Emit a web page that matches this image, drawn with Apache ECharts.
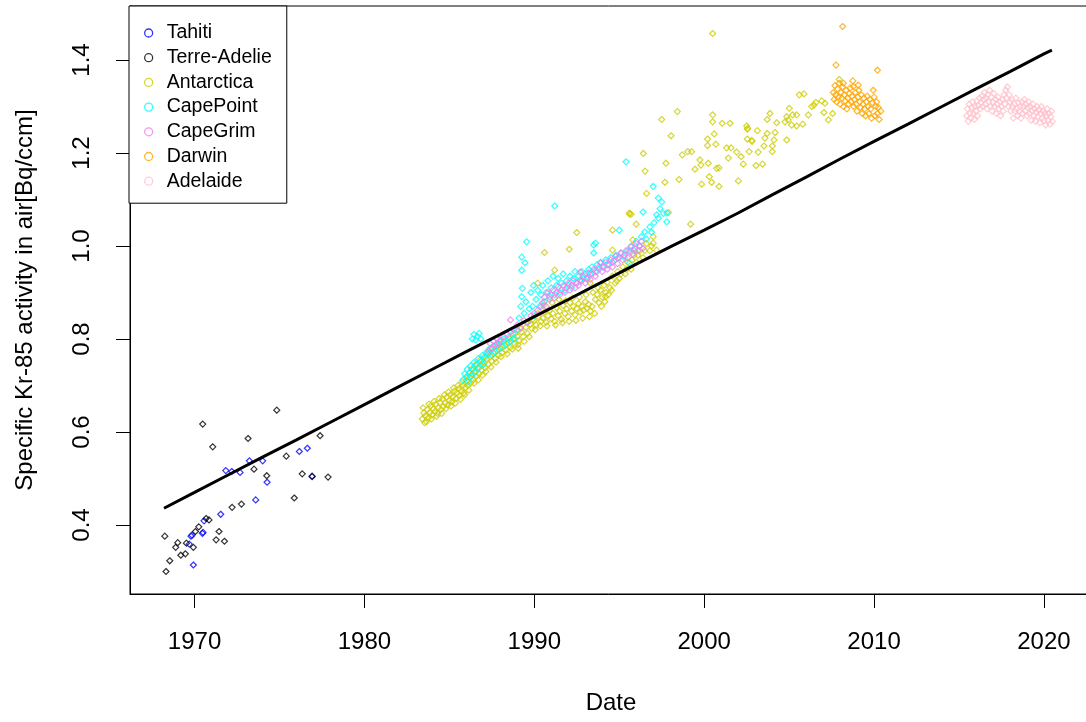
<!DOCTYPE html>
<html>
<head>
<meta charset="utf-8">
<script src="https://cdn.jsdelivr.net/npm/echarts@6/dist/echarts.min.js"></script>
<style>
    html, body { margin: 0; padding: 0; background: #fff; }
    #chart { width: 1086px; height: 722px; }
</style>
</head>
<body>
<div id="chart"></div>
<script>
// ============================================
// Data (year, Bq/ccm)
// ============================================
const xTicks = [1970, 1980, 1990, 2000, 2010, 2020];
const yTicks = [0.4, 0.6, 0.8, 1.0, 1.2, 1.4];

const tahiti = [
    [1971.84, 0.517], [1972.19, 0.515], [1972.68, 0.513], [1973.23, 0.538], [1974.01, 0.538],
    [1974.27, 0.492], [1973.6, 0.454], [1971.54, 0.423], [1970.56, 0.409], [1970.46, 0.382],
    [1970.5, 0.384], [1969.79, 0.376], [1969.85, 0.378], [1969.69, 0.359], [1969.93, 0.314],
    [1976.17, 0.558], [1976.64, 0.565], [1976.92, 0.504]
];

const terreAdelie = [
    [1970.48, 0.617], [1971.07, 0.568], [1973.15, 0.586], [1974.84, 0.647], [1973.5, 0.520],
    [1974.25, 0.506], [1975.40, 0.548], [1977.39, 0.592], [1976.34, 0.510], [1977.86, 0.503],
    [1975.87, 0.458], [1972.76, 0.445], [1972.21, 0.438], [1970.68, 0.414], [1970.85, 0.411],
    [1970.25, 0.396], [1970.05, 0.386], [1971.44, 0.386], [1971.27, 0.368], [1971.76, 0.365],
    [1968.25, 0.376], [1969.01, 0.362], [1968.89, 0.352], [1969.52, 0.361], [1969.93, 0.352],
    [1969.19, 0.335], [1969.46, 0.338], [1968.54, 0.323], [1968.32, 0.300], [1976.92, 0.505]
];

const antarctica = [
    [1983.4, 0.628], [1983.5, 0.641], [1983.55, 0.62], [1983.6, 0.635], [1983.7, 0.648], [1983.75, 0.63],
    [1983.85, 0.642], [1983.9, 0.656], [1984.0, 0.637], [1984.05, 0.65], [1984.15, 0.644], [1984.2, 0.66],
    [1984.3, 0.64], [1984.35, 0.652], [1984.45, 0.663], [1984.5, 0.648], [1984.6, 0.671], [1984.65, 0.655],
    [1984.75, 0.662], [1984.85, 0.675], [1984.9, 0.658], [1985.0, 0.668], [1985.05, 0.68], [1985.15, 0.665],
    [1985.2, 0.676], [1985.3, 0.688], [1985.4, 0.672], [1985.45, 0.684], [1985.55, 0.693], [1985.6, 0.678],
    [1985.7, 0.688], [1985.8, 0.70], [1985.85, 0.684], [1985.95, 0.696], [1986.0, 0.71], [1986.1, 0.70],
    [1986.2, 0.718], [1986.25, 0.705], [1986.35, 0.725], [1986.4, 0.712], [1986.5, 0.73], [1986.6, 0.72],
    [1986.65, 0.738], [1986.75, 0.725], [1986.85, 0.745], [1986.9, 0.733], [1987.0, 0.75], [1987.1, 0.738],
    [1987.2, 0.757], [1987.3, 0.745], [1987.4, 0.762], [1987.5, 0.752], [1987.6, 0.77], [1987.7, 0.758],
    [1987.8, 0.775], [1987.9, 0.765], [1988.0, 0.78], [1988.1, 0.77], [1988.25, 0.786], [1988.35, 0.776],
    [1988.5, 0.792], [1988.6, 0.782], [1988.75, 0.80], [1988.85, 0.79], [1989.0, 0.806], [1989.1, 0.796],
    [1989.25, 0.815], [1989.35, 0.805], [1989.5, 0.825], [1989.6, 0.812], [1989.75, 0.832], [1989.85, 0.822],
    [1990.0, 0.84], [1990.1, 0.83], [1990.25, 0.848], [1990.4, 0.838],
    [1983.45, 0.652], [1983.65, 0.622], [1983.8, 0.66], [1983.95, 0.628], [1984.1, 0.666], [1984.25, 0.634],
    [1984.4, 0.672], [1984.55, 0.64], [1984.7, 0.68], [1984.8, 0.65], [1984.95, 0.686], [1985.1, 0.656],
    [1985.25, 0.695], [1985.35, 0.662], [1985.5, 0.70], [1985.65, 0.67], [1985.75, 0.708], [1985.9, 0.68],
    [1986.05, 0.72], [1986.15, 0.69], [1986.3, 0.735], [1986.45, 0.705], [1986.55, 0.745], [1986.7, 0.712],
    [1986.8, 0.755], [1986.95, 0.722], [1987.05, 0.762], [1987.15, 0.73], [1987.25, 0.77], [1987.45, 0.74],
    [1987.55, 0.78], [1987.75, 0.75], [1987.85, 0.785], [1988.05, 0.762], [1988.2, 0.795], [1988.4, 0.768],
    [1988.55, 0.80], [1988.7, 0.778], [1988.9, 0.812], [1989.05, 0.788], [1989.2, 0.822], [1989.4, 0.795],
    [1989.55, 0.835], [1989.7, 0.805], [1989.9, 0.842], [1990.05, 0.82], [1990.2, 0.855], [1990.35, 0.828],
    [1990.5, 0.845], [1990.6, 0.858], [1990.7, 0.836], [1990.8, 0.85], [1990.9, 0.862], [1991.0, 0.843],
    [1991.1, 0.855], [1991.2, 0.838], [1991.3, 0.868], [1991.4, 0.85], [1991.5, 0.86], [1991.6, 0.842],
    [1991.7, 0.872], [1991.8, 0.855], [1991.9, 0.865], [1992.0, 0.848], [1992.1, 0.878], [1992.2, 0.86],
    [1992.3, 0.87], [1992.4, 0.852], [1992.5, 0.866], [1992.6, 0.876], [1992.7, 0.858], [1992.8, 0.87],
    [1992.9, 0.862], [1993.0, 0.88], [1993.1, 0.866], [1993.2, 0.874], [1993.3, 0.86], [1993.4, 0.87],
    [1993.6, 0.885], [1993.7, 0.896], [1993.8, 0.878], [1993.9, 0.905], [1994.0, 0.89], [1994.1, 0.915],
    [1994.2, 0.9], [1994.3, 0.922], [1994.45, 0.91], [1994.6, 0.935], [1994.75, 0.92], [1994.9, 0.945],
    [1995.0, 0.93], [1995.2, 0.955], [1995.35, 0.94], [1995.5, 0.965], [1995.7, 0.95], [1995.85, 0.98],
    [1996.0, 0.965], [1996.2, 0.99], [1996.4, 0.975], [1996.6, 1.005], [1996.8, 0.99], [1997.0, 1.02],
    [1990.55, 0.872], [1990.75, 0.828], [1991.05, 0.878], [1991.25, 0.83], [1991.45, 0.885], [1991.65, 0.835],
    [1991.85, 0.882], [1992.05, 0.838], [1992.25, 0.888], [1992.45, 0.84], [1992.65, 0.89], [1992.85, 0.845],
    [1993.05, 0.895], [1993.25, 0.848], [1993.45, 0.90], [1993.55, 0.855], [1993.75, 0.91], [1993.95, 0.87],
    [1994.15, 0.88], [1994.35, 0.895], [1994.55, 0.905], [1994.85, 0.925], [1995.1, 0.94], [1995.45, 0.95],
    [1995.75, 0.97], [1996.1, 0.98], [1996.5, 0.99], [1996.9, 1.0],
    [1990.2, 0.92], [1990.6, 0.986], [1991.2, 0.948], [1992.06, 0.993], [1992.5, 1.029], [1992.7, 0.927],
    [1993.3, 0.92], [1994.2, 0.891], [1995.6, 1.069], [1996.0, 1.047], [1997.9, 1.072], [1999.2, 1.047],
    [1995.7, 1.068], [1996.42, 1.199], [1996.52, 1.161], [1996.61, 1.113], [1995.6, 1.071], [1994.6, 1.034],
    [1997.0, 1.006], [1997.2, 0.991], [1995.8, 1.013], [1994.6, 0.991], [1989.06, 0.78],
    [2000.50, 1.457], [1997.50, 1.272], [1998.42, 1.289], [1998.05, 1.237], [1997.75, 1.178], [1998.52, 1.143],
    [1997.69, 1.137], [1998.71, 1.196], [1999.03, 1.203], [1999.26, 1.203], [1999.46, 1.165], [1999.81, 1.174],
    [1999.75, 1.185], [2000.24, 1.178], [1999.85, 1.133], [2000.30, 1.149], [2000.44, 1.137], [2000.87, 1.128],
    [2000.20, 1.230], [2000.20, 1.216], [2000.50, 1.267], [2000.50, 1.282], [2000.59, 1.241], [2000.69, 1.219],
    [2000.87, 1.168], [2001.06, 1.264], [2001.52, 1.264], [2001.32, 1.211], [2001.58, 1.211], [2001.42, 1.189],
    [2001.91, 1.202], [2002.17, 1.192], [2002.01, 1.140], [2002.30, 1.176], [2002.50, 1.258], [2002.54, 1.230],
    [2002.65, 1.203], [2003.05, 1.173], [2003.13, 1.248], [2003.18, 1.202], [2003.44, 1.176], [2003.58, 1.232],
    [2003.52, 1.215], [2003.71, 1.272], [2003.87, 1.285], [2003.71, 1.242], [2004.01, 1.215], [2004.11, 1.228],
    [2004.17, 1.244], [2004.27, 1.265], [2004.01, 1.203], [2004.76, 1.267], [2004.86, 1.278], [2005.01, 1.296],
    [2004.95, 1.271], [2005.21, 1.282], [2005.44, 1.282], [2005.15, 1.260], [2004.86, 1.228], [2005.44, 1.258],
    [2005.60, 1.325], [2005.87, 1.327], [2005.80, 1.262], [2006.13, 1.282], [2006.33, 1.300], [2006.46, 1.303],
    [2006.92, 1.312], [2007.05, 1.287], [2007.11, 1.307], [2007.31, 1.271], [2007.56, 1.285], [2007.95, 1.358],
    [2006.58, 1.309], [2000.73, 1.167], [2002.54, 1.251], [2002.56, 1.253], [2002.8, 1.227], [2002.82, 1.225]
];

const capePoint = [
    [1985.8, 0.712], [1985.9, 0.725], [1986.0, 0.718], [1986.05, 0.735], [1986.1, 0.708], [1986.2, 0.728],
    [1986.25, 0.742], [1986.3, 0.72], [1986.4, 0.735], [1986.45, 0.75], [1986.5, 0.728], [1986.6, 0.745],
    [1986.7, 0.758], [1986.75, 0.738], [1986.85, 0.752], [1986.95, 0.765], [1987.0, 0.745], [1987.1, 0.76],
    [1987.2, 0.772], [1986.35, 0.80], [1986.45, 0.81], [1986.55, 0.798], [1986.65, 0.806], [1986.75, 0.812],
    [1986.85, 0.80], [1987.3, 0.768], [1987.4, 0.78], [1987.5, 0.765], [1987.6, 0.785], [1987.7, 0.772],
    [1987.8, 0.79], [1987.9, 0.778], [1988.0, 0.795], [1988.1, 0.783], [1988.2, 0.80], [1988.35, 0.79],
    [1988.5, 0.805], [1988.6, 0.795], [1988.75, 0.812], [1988.85, 0.80], [1989.0, 0.82],
    [1989.1, 0.845], [1989.2, 0.87], [1989.26, 0.891], [1989.3, 0.909], [1989.26, 0.948], [1989.45, 0.964],
    [1989.26, 0.976], [1989.55, 1.009], [1989.4, 0.855], [1989.5, 0.88], [1989.6, 0.835], [1989.7, 0.865],
    [1989.8, 0.9], [1989.9, 0.87], [1989.95, 0.915], [1990.0, 0.85], [1990.1, 0.885], [1990.2, 0.905],
    [1990.3, 0.87], [1990.4, 0.895], [1990.5, 0.915], [1990.6, 0.88], [1990.7, 0.9], [1990.8, 0.925],
    [1990.9, 0.89], [1991.0, 0.91], [1991.1, 0.935], [1991.2, 1.086], [1991.2, 0.895], [1991.3, 0.915],
    [1991.4, 0.93], [1991.5, 0.9], [1991.6, 0.92], [1991.7, 0.94], [1991.8, 0.905], [1991.9, 0.925],
    [1992.0, 0.915], [1992.1, 0.935], [1992.2, 0.91], [1992.3, 0.93], [1992.4, 0.945], [1992.5, 0.92],
    [1992.6, 0.935], [1992.7, 0.925], [1992.8, 0.945], [1992.9, 0.93], [1993.0, 0.94], [1993.1, 0.93],
    [1993.2, 0.95], [1993.3, 0.94], [1993.5, 1.002], [1993.5, 0.985], [1993.6, 1.006], [1993.4, 0.955],
    [1993.6, 0.945], [1993.7, 0.96], [1993.8, 0.95], [1993.9, 0.965], [1994.0, 0.955], [1994.2, 0.97],
    [1994.3, 0.96], [1994.5, 0.975], [1994.6, 0.965], [1994.8, 0.98], [1994.9, 0.974], [1995.0, 1.034],
    [1995.4, 1.181], [1995.1, 0.985], [1995.3, 0.975], [1995.5, 0.99], [1995.6, 0.963], [1995.7, 1.0],
    [1995.9, 0.99], [1996.0, 1.01], [1996.2, 1.0], [1996.3, 1.02], [1996.4, 1.073], [1996.5, 1.03],
    [1996.6, 1.015], [1996.8, 1.041], [1996.9, 1.03], [1997.0, 1.128], [1997.05, 1.05], [1997.2, 1.067],
    [1997.3, 1.103], [1997.3, 1.06], [1997.4, 1.08], [1997.5, 1.095], [1997.6, 1.07], [1997.8, 1.071],
    [1997.8, 1.052]
];

const capeGrim = [
    [1987.3, 0.775], [1987.4, 0.79], [1987.5, 0.78], [1987.6, 0.795], [1987.7, 0.787], [1987.8, 0.8],
    [1987.9, 0.79], [1988.0, 0.798], [1988.2, 0.805], [1988.4, 0.81], [1988.6, 0.841], [1988.6, 0.815],
    [1988.8, 0.82], [1989.0, 0.83], [1989.2, 0.825], [1989.4, 0.84], [1989.6, 0.835], [1989.8, 0.85],
    [1990.0, 0.855], [1990.2, 0.862], [1990.4, 0.87], [1990.5, 0.878], [1990.6, 0.89], [1990.7, 0.87],
    [1990.8, 0.9], [1990.9, 0.885], [1991.0, 0.895], [1991.1, 0.905], [1991.2, 0.888], [1991.3, 0.9],
    [1991.4, 0.912], [1991.5, 0.895], [1991.6, 0.905], [1991.7, 0.915], [1991.8, 0.9], [1991.9, 0.91],
    [1992.0, 0.92], [1992.1, 0.905], [1992.2, 0.915], [1992.3, 0.925], [1992.4, 0.91], [1992.5, 0.92],
    [1992.7, 0.944], [1992.6, 0.915], [1992.8, 0.925], [1992.9, 0.935], [1993.0, 0.92], [1993.1, 0.93],
    [1993.2, 0.942], [1993.3, 0.928], [1993.4, 0.94], [1993.5, 0.95], [1993.6, 0.935], [1993.7, 0.945],
    [1993.8, 0.955], [1993.9, 0.963], [1994.0, 0.945], [1994.1, 0.955], [1994.2, 0.965], [1994.3, 0.95],
    [1994.4, 0.96], [1994.5, 0.97], [1994.6, 0.955], [1994.7, 0.968], [1994.8, 0.978], [1994.9, 0.962],
    [1995.0, 0.975], [1995.1, 0.985], [1995.2, 0.97], [1995.3, 0.98], [1995.4, 0.99], [1995.5, 0.975],
    [1995.6, 0.988], [1995.7, 0.998], [1995.8, 0.983], [1995.9, 0.995], [1996.0, 1.005], [1996.1, 0.99],
    [1996.2, 1.0], [1996.3, 1.01], [1996.4, 0.995]
];

const darwin = [
    [2008.15, 1.472], [2007.76, 1.389], [2010.2, 1.378],
    [2007.6, 1.33], [2007.65, 1.315], [2007.7, 1.345], [2007.75, 1.325], [2007.8, 1.31], [2007.85, 1.338],
    [2007.9, 1.32], [2007.95, 1.35], [2008.0, 1.305], [2008.05, 1.33], [2008.1, 1.318], [2008.15, 1.342],
    [2008.2, 1.3], [2008.25, 1.325], [2008.3, 1.312], [2008.35, 1.335], [2008.4, 1.295], [2008.45, 1.318],
    [2008.5, 1.305], [2008.55, 1.328], [2008.6, 1.34], [2008.65, 1.31], [2008.7, 1.322], [2008.75, 1.355],
    [2008.8, 1.3], [2008.85, 1.315], [2008.9, 1.33], [2008.95, 1.305], [2009.0, 1.29], [2009.05, 1.32],
    [2009.07, 1.346], [2009.1, 1.335], [2009.15, 1.31], [2009.2, 1.298], [2009.25, 1.325], [2009.3, 1.285],
    [2009.35, 1.305], [2009.4, 1.318], [2009.45, 1.295], [2009.5, 1.28], [2009.55, 1.31], [2009.6, 1.322],
    [2009.65, 1.3], [2009.7, 1.285], [2009.75, 1.315], [2009.8, 1.295], [2009.85, 1.275], [2009.9, 1.308],
    [2009.95, 1.335], [2010.0, 1.32], [2010.05, 1.28], [2010.1, 1.3], [2010.15, 1.31], [2010.2, 1.285],
    [2010.25, 1.298], [2010.3, 1.272], [2010.4, 1.29], [2008.19, 1.35], [2008.78, 1.343]
];

const adelaide = [
    [2015.45, 1.28], [2015.5, 1.295], [2015.55, 1.268], [2015.6, 1.305], [2015.65, 1.285], [2015.7, 1.275],
    [2015.75, 1.298], [2015.8, 1.31], [2015.85, 1.285], [2015.9, 1.272], [2015.95, 1.3], [2016.0, 1.29],
    [2016.05, 1.312], [2016.1, 1.28], [2016.15, 1.302], [2016.2, 1.318], [2016.25, 1.295], [2016.3, 1.308],
    [2016.35, 1.322], [2016.4, 1.3], [2016.45, 1.315], [2016.5, 1.33], [2016.55, 1.305], [2016.6, 1.318],
    [2016.65, 1.295], [2016.7, 1.325], [2016.75, 1.31], [2016.8, 1.335], [2016.85, 1.3], [2016.9, 1.32],
    [2016.95, 1.29], [2017.0, 1.31], [2017.05, 1.328], [2017.1, 1.3], [2017.15, 1.315], [2017.2, 1.285],
    [2017.25, 1.305], [2017.3, 1.32], [2017.35, 1.295], [2017.4, 1.31], [2017.45, 1.28], [2017.5, 1.3],
    [2017.55, 1.315], [2017.6, 1.29], [2017.65, 1.325], [2017.7, 1.305], [2017.75, 1.335], [2017.8, 1.318],
    [2017.85, 1.342], [2017.9, 1.3], [2017.95, 1.325], [2018.0, 1.31], [2018.05, 1.29], [2018.1, 1.315],
    [2018.15, 1.3], [2018.2, 1.275], [2018.25, 1.305], [2018.3, 1.29], [2018.35, 1.318], [2018.4, 1.295],
    [2018.45, 1.28], [2018.5, 1.308], [2018.55, 1.29], [2018.6, 1.3], [2018.65, 1.275], [2018.7, 1.31],
    [2018.75, 1.285], [2018.8, 1.3], [2018.85, 1.315], [2018.9, 1.29], [2018.95, 1.305], [2019.0, 1.28],
    [2019.05, 1.298], [2019.1, 1.31], [2019.15, 1.285], [2019.2, 1.3], [2019.25, 1.27], [2019.3, 1.29],
    [2019.35, 1.305], [2019.4, 1.28], [2019.45, 1.295], [2019.5, 1.268], [2019.55, 1.288], [2019.6, 1.3],
    [2019.65, 1.278], [2019.7, 1.292], [2019.75, 1.265], [2019.8, 1.285], [2019.85, 1.3], [2019.9, 1.275],
    [2019.95, 1.29], [2020.0, 1.27], [2020.05, 1.285], [2020.1, 1.26], [2020.15, 1.28], [2020.2, 1.295],
    [2020.25, 1.27], [2020.3, 1.285], [2020.35, 1.262], [2020.4, 1.278], [2020.45, 1.29], [2020.5, 1.268]
];

// black background curve
const trend = [
    [1968.2, 0.436], [1970, 0.470], [1972, 0.508], [1974, 0.546], [1976, 0.583], [1978, 0.621],
    [1980, 0.659], [1982, 0.697], [1984, 0.735], [1986, 0.773], [1988, 0.810], [1990, 0.848],
    [1992, 0.885], [1994, 0.923], [1996, 0.961], [1998, 0.998], [2000, 1.034], [2002, 1.071],
    [2004, 1.110], [2006, 1.148], [2008, 1.187], [2010, 1.225], [2012, 1.262], [2014, 1.300],
    [2016, 1.338], [2018, 1.375], [2020, 1.413], [2020.47, 1.421]
];

// ============================================
// Chart
// ============================================
const FONT = '"Liberation Sans", Arial, sans-serif';

function scatter(name, data, color) {
    return {
        name: name,
        type: 'scatter',
        data: data,
        symbol: 'diamond',
        symbolSize: 6,
        itemStyle: { color: 'rgba(0,0,0,0)', borderColor: color, borderWidth: 1.2 }
    };
}

const chart = echarts.init(document.getElementById('chart'), null, { renderer: 'canvas' });

chart.setOption({
    animation: false,
    backgroundColor: '#fff',
    grid: {
        left: 130, top: 6, width: 962, height: 588,
        outerBoundsMode: 'none',
        containLabel: false,
        show: true, borderColor: '#000', borderWidth: 1, backgroundColor: 'transparent'
    },
    legend: {
        left: 129, top: 6,
        orient: 'vertical',
        padding: [17, 15, 12, 15],
        itemGap: 4.7,
        itemWidth: 8, itemHeight: 8,
        icon: 'circle',
        itemStyle: { color: 'rgba(0,0,0,0)', borderWidth: 1.3 },
        borderColor: '#000', borderWidth: 1,
        backgroundColor: '#fff',
        textStyle: { fontFamily: FONT, fontSize: 19.5, color: '#000', lineHeight: 20, padding: [0, 0, 0, 9] },
        data: ['Tahiti', 'Terre-Adelie', 'Antarctica', 'CapePoint', 'CapeGrim', 'Darwin', 'Adelaide']
    },
    xAxis: {
        type: 'value',
        min: 1966.2, max: 2022.83,
        name: 'Date',
        nameLocation: 'middle',
        nameGap: 97,
        nameTextStyle: { fontFamily: FONT, fontSize: 24, color: '#000' },
        axisLine: { onZero: false, lineStyle: { color: '#000', width: 1 } },
        axisTick: { inside: false, length: 14, customValues: xTicks, lineStyle: { color: '#000' } },
        axisLabel: {
            customValues: xTicks, margin: 36,
            fontFamily: FONT, fontSize: 24, color: '#000',
            formatter: v => String(v)
        },
        splitLine: { show: false }
    },
    yAxis: {
        type: 'value',
        min: 0.2516, max: 1.5161,
        name: 'Specific Kr-85 activity in air[Bq/ccm]',
        nameLocation: 'middle',
        nameRotate: 90,
        nameGap: 93,
        nameTextStyle: { fontFamily: FONT, fontSize: 24, color: '#000' },
        axisLine: { show: true, onZero: false, lineStyle: { color: '#000', width: 1 } },
        axisTick: { show: true, inside: false, length: 14, customValues: yTicks, lineStyle: { color: '#000' } },
        axisLabel: {
            customValues: yTicks, margin: 36, rotate: 90,
            fontFamily: FONT, fontSize: 24, color: '#000',
            formatter: v => v.toFixed(1)
        },
        splitLine: { show: false }
    },
    series: [
        scatter('Tahiti', tahiti, '#0000FF'),
        scatter('Terre-Adelie', terreAdelie, '#000000'),
        scatter('Antarctica', antarctica, '#CDCD00'),
        scatter('CapePoint', capePoint, '#00FFFF'),
        scatter('CapeGrim', capeGrim, '#EE82EE'),
        scatter('Darwin', darwin, '#FFA500'),
        scatter('Adelaide', adelaide, '#FFC0CB'),
        {
            name: 'trend',
            type: 'line',
            data: trend,
            showSymbol: false,
            lineStyle: { color: '#000', width: 3 },
            z: 5
        }
    ]
});
</script>
</body>
</html>
